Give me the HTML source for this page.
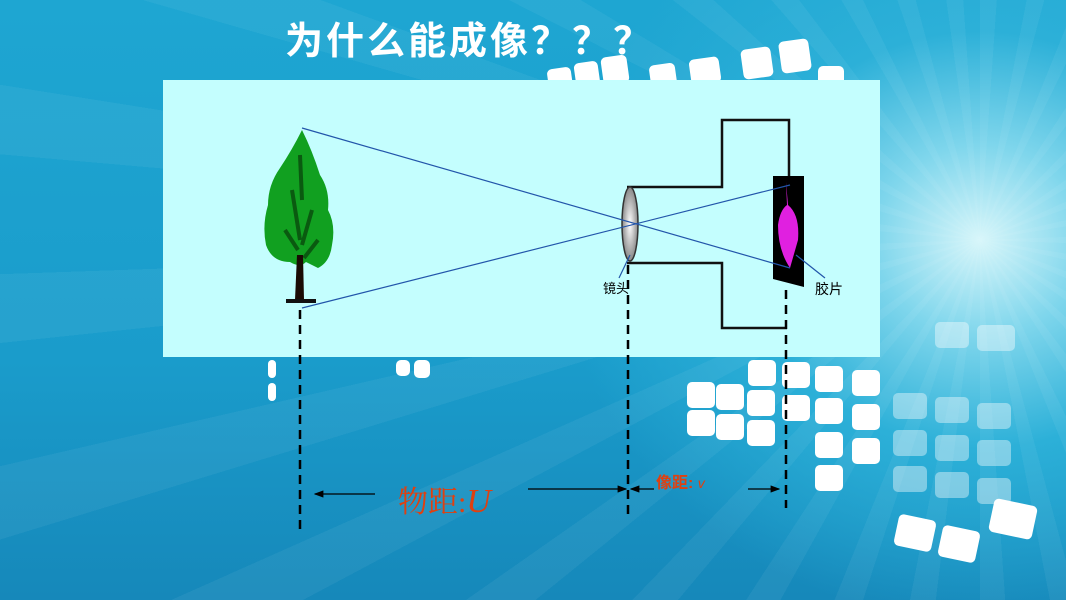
<!DOCTYPE html>
<html><head><meta charset="utf-8"><style>
body{margin:0;width:1066px;height:600px;overflow:hidden;position:relative;
background:radial-gradient(ellipse 420px 380px at 980px 240px,#d8f6fa 0%,#7fd6ec 25%,#2cb0d8 55%,rgba(30,160,205,0) 100%),linear-gradient(180deg,#1ea6d2 0%,#1a9ccb 60%,#1688ba 100%);}
.sq{position:absolute;width:28px;height:26px;border-radius:5px;background:#fff;}
.sq.f{background:rgba(255,255,255,.4);}
h1{position:absolute;left:285px;top:10px;margin:0;font:bold 38px "Liberation Sans","Noto Sans CJK SC",sans-serif;color:#fff;letter-spacing:3px}
</style></head><body>
<div style="position:absolute;left:0;top:0;width:1066px;height:600px;background:repeating-conic-gradient(from 0deg at 980px 240px,rgba(255,255,255,.05) 0deg 4deg,rgba(255,255,255,0) 4deg 11deg)"></div>
<div class="sq" style="left:548px;top:68px;width:24px;height:24px;transform:rotate(-8deg)"></div><div class="sq" style="left:575px;top:62px;width:24px;height:26px;transform:rotate(-8deg)"></div><div class="sq" style="left:602px;top:56px;width:26px;height:28px;transform:rotate(-8deg)"></div>
<div class="sq" style="left:650px;top:64px;width:26px;height:24px;transform:rotate(-8deg)"></div><div class="sq" style="left:690px;top:58px;width:30px;height:26px;transform:rotate(-8deg)"></div><div class="sq" style="left:742px;top:48px;width:30px;height:30px;transform:rotate(-8deg)"></div><div class="sq" style="left:780px;top:40px;width:30px;height:32px;transform:rotate(-8deg)"></div><div class="sq" style="left:818px;top:66px;width:26px;height:20px"></div>
<div class="sq" style="left:748px;top:360px"></div><div class="sq" style="left:782px;top:362px"></div><div class="sq" style="left:815px;top:366px"></div><div class="sq" style="left:852px;top:370px"></div>
<div class="sq" style="left:687px;top:382px"></div><div class="sq" style="left:716px;top:384px"></div><div class="sq" style="left:747px;top:390px"></div><div class="sq" style="left:782px;top:395px"></div><div class="sq" style="left:815px;top:398px"></div><div class="sq" style="left:852px;top:404px"></div>
<div class="sq" style="left:687px;top:410px"></div><div class="sq" style="left:716px;top:414px"></div><div class="sq" style="left:747px;top:420px"></div><div class="sq" style="left:815px;top:432px"></div><div class="sq" style="left:852px;top:438px"></div>
<div class="sq" style="left:815px;top:465px"></div>
<div class="sq f" style="left:893px;top:393px;width:34px"></div><div class="sq f" style="left:935px;top:397px;width:34px"></div><div class="sq f" style="left:977px;top:403px;width:34px"></div>
<div class="sq f" style="left:893px;top:430px;width:34px"></div><div class="sq f" style="left:935px;top:435px;width:34px"></div><div class="sq f" style="left:977px;top:440px;width:34px"></div>
<div class="sq f" style="left:893px;top:466px;width:34px"></div><div class="sq f" style="left:935px;top:472px;width:34px"></div><div class="sq f" style="left:977px;top:478px;width:34px"></div>
<div class="sq f" style="left:935px;top:322px;width:34px"></div><div class="sq f" style="left:977px;top:325px;width:38px"></div>
<div class="sq" style="left:896px;top:517px;width:38px;height:32px;transform:rotate(12deg)"></div><div class="sq" style="left:940px;top:528px;width:38px;height:32px;transform:rotate(12deg)"></div><div class="sq" style="left:991px;top:502px;width:44px;height:34px;transform:rotate(12deg)"></div>
<div class="sq" style="left:396px;top:360px;width:14px;height:16px"></div><div class="sq" style="left:414px;top:360px;width:16px;height:18px"></div>
<div class="sq" style="left:268px;top:360px;width:8px;height:18px"></div><div class="sq" style="left:268px;top:383px;width:8px;height:18px"></div>
<h1>为什么能成像？？？</h1>
<div style="position:absolute;left:163px;top:80px;width:717px;height:277px;background:#c4fefe"></div>
<svg width="1066" height="600" style="position:absolute;left:0;top:0">
<defs><radialGradient id="lg" cx="50%" cy="50%" r="50%"><stop offset="0" stop-color="#fff"/><stop offset="1" stop-color="#888"/></radialGradient>
<marker id="a" markerWidth="8" markerHeight="6" refX="7" refY="3" orient="auto"><path d="M0,0L8,3L0,6z" fill="#000"/></marker></defs>
<g fill="none" stroke="#111" stroke-width="2.5">
<path d="M627,187H722V120H789V180"/><path d="M627,263H722V328H787"/></g>
<polygon points="773,176 804,176 804,287 773,279" fill="#000"/>
<path d="M786,182 L788,205 Q800,215 798,240 L790,268 Q778,250 778,225 Q780,210 787,205" fill="#e020e0"/>
<ellipse cx="630" cy="224" rx="8" ry="37" fill="url(#lg)" stroke="#333" stroke-width="1.5"/>
<g stroke="#2255aa" stroke-width="1.2"><line x1="302" y1="128" x2="790" y2="268"/><line x1="302" y1="308" x2="790" y2="185"/>
<line x1="630" y1="255" x2="619" y2="278"/><line x1="796" y1="255" x2="825" y2="278"/></g>
<text x="603" y="293" font-size="13" font-family="Liberation Sans,Noto Sans CJK SC,sans-serif">镜头</text>
<text x="815" y="294" font-size="14" font-family="Liberation Sans,Noto Sans CJK SC,sans-serif">胶片</text>
<path d="M302,130 Q312,150 320,175 Q330,190 328,210 Q336,225 332,245 Q330,262 318,268 L306,262 Q300,268 290,262 Q272,262 266,245 Q262,225 268,205 Q268,185 280,168 Q292,150 302,130Z" fill="#11a020"/>
<path d="M300,155 L302,200 M292,190 L300,240 M312,210 L302,245 M285,230 L298,250 M318,240 L304,258" stroke="#0a5a10" stroke-width="4" fill="none"/>
<path d="M297,255 L295,300 L304,300 L303,255Z" fill="#1a0a05"/>
<rect x="286" y="299" width="30" height="4" fill="#111"/>
<g stroke="#000" stroke-width="2.5" stroke-dasharray="9,6"><line x1="300" y1="310" x2="300" y2="532"/><line x1="628" y1="265" x2="628" y2="518"/><line x1="786" y1="290" x2="786" y2="508"/></g>
<g stroke="#000" stroke-width="1.2"><line x1="375" y1="494" x2="315" y2="494" marker-end="url(#a)"/><line x1="528" y1="489" x2="626" y2="489" marker-end="url(#a)"/><line x1="654" y1="489" x2="631" y2="489" marker-end="url(#a)"/><line x1="748" y1="489" x2="779" y2="489" marker-end="url(#a)"/></g>
<text x="398" y="512" font-size="30" fill="#e04010" font-family="Liberation Serif,Noto Serif CJK SC,serif">物距:<tspan font-style="italic" font-size="34">U</tspan></text>
<text x="656" y="488" font-size="16" font-weight="bold" fill="#e04010" font-family="Liberation Sans,Noto Sans CJK SC,sans-serif">像距: <tspan font-style="italic" font-weight="normal" font-size="14">v</tspan></text>
</svg>
</body></html>
